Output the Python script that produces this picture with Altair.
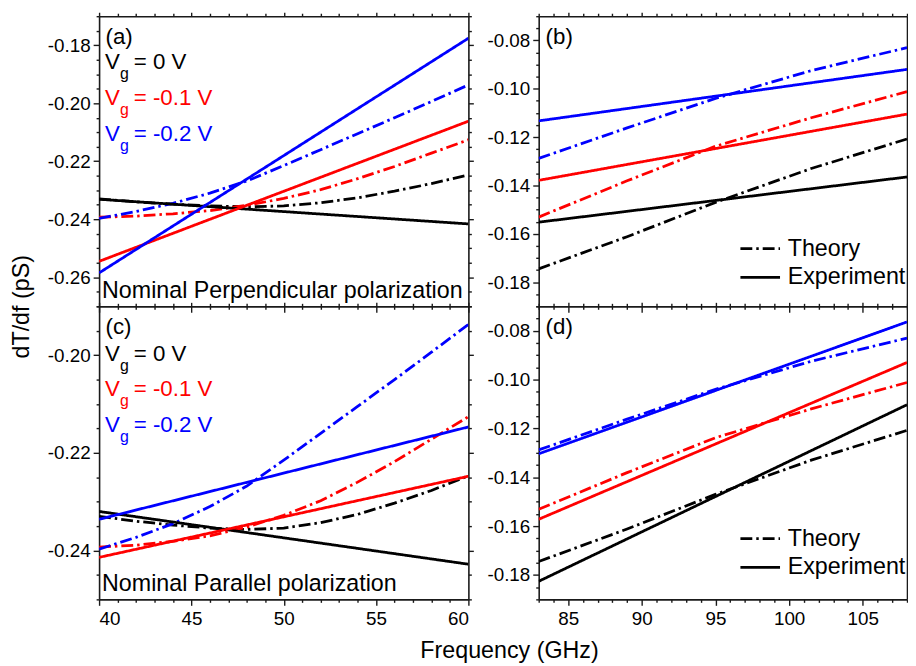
import altair as alt
import pandas as pd

FONT = "Liberation Sans"
AX = "#1a1a1a"

# ---------------- data ----------------
vg_levels = ["0 V", "-0.1 V", "-0.2 V"]
vg_colors = ["#000000", "#ff0000", "#0000ff"]
kinds = ["Theory", "Experiment"]

# theory curves (left panels, 40-60 GHz)
theory_left_freq = [40, 42, 44, 46, 48, 50, 52, 54, 56, 58, 60]
theory_left_0 = [-0.2330, -0.2340, -0.2348, -0.2354, -0.2357, -0.2354, -0.2343, -0.2326, -0.2303, -0.2277, -0.2247]
theory_left_m01 = [-0.2393, -0.2389, -0.2381, -0.2370, -0.2352, -0.2328, -0.2298, -0.2260, -0.2218, -0.2172, -0.2126]
theory_left_m02 = [-0.2397, -0.2373, -0.2345, -0.2310, -0.2268, -0.2215, -0.2160, -0.2105, -0.2050, -0.1994, -0.1937]

# theory curves (right panels, 83-108 GHz)
theory_right_freq = [83, 89, 95, 101.5, 108]
theory_right_0 = [-0.1745, -0.1612, -0.1470, -0.1330, -0.1208]
theory_right_m01 = [-0.1531, -0.1381, -0.1238, -0.1120, -0.1012]
theory_right_m02 = [-0.1288, -0.1162, -0.1040, -0.0925, -0.0830]

# experiment lines
exp_left_freq = [40, 60]
exp_a_0 = [-0.2331, -0.2416]
exp_a_m01 = [-0.2545, -0.2062]
exp_a_m02 = [-0.2585, -0.1776]
exp_c_0 = [-0.2320, -0.2428]
exp_c_m01 = [-0.2414, -0.2248]
exp_c_m02 = [-0.2336, -0.2147]

exp_right_freq = [83, 108]
exp_b_0 = [-0.1552, -0.1365]
exp_b_m01 = [-0.1379, -0.1105]
exp_b_m02 = [-0.1133, -0.0920]
exp_d_0 = [-0.1826, -0.1103]
exp_d_m01 = [-0.1572, -0.0930]
exp_d_m02 = [-0.1304, -0.0764]

panel_tags = ["(a)", "(b)", "(c)", "(d)"]
vg_rest = ["= 0 V", "= -0.1 V", "= -0.2 V"]
pol_labels = ["Nominal Perpendicular polarization", "Nominal Parallel polarization"]

# ---------------- helpers ----------------
DASHDOT = [12, 4, 2.5, 4]
YEXPR = "(datum.value < 0 ? '-' : '') + format(abs(datum.value), '.2f')"


def build(tf, tvals, ef, evals):
    frames = []
    for vg, vals in zip(vg_levels, tvals):
        frames.append(pd.DataFrame({"freq": tf, "val": vals, "vg": vg, "kind": "Theory"}))
    for vg, vals in zip(vg_levels, evals):
        frames.append(pd.DataFrame({"freq": ef, "val": vals, "vg": vg, "kind": "Experiment"}))
    df = pd.concat(frames, ignore_index=True)
    df["series"] = df["kind"] + " " + df["vg"]
    return df


def tick_list(lo, hi, step):
    n = int(round((hi - lo) / step))
    return [round(lo + i * step, 4) for i in range(n + 1)]


def axis(orient, values, size, **kw):
    d = dict(orient=orient, values=values, tickSize=size, labels=False, grid=False,
             domainColor=AX, domainWidth=1.6, tickColor=AX, tickWidth=1.4,
             labelFont=FONT, labelFontSize=19, labelColor="black", labelPadding=4,
             titleFont=FONT, titleFontSize=23.5, titleColor="black", titleFontWeight="normal",
             title=None)
    d.update(kw)
    return alt.Axis(**d)


def txt(s, x, y, size=22.5, color="black"):
    return alt.Chart(pd.DataFrame({"t": [s]})).mark_text(
        align="left", baseline="alphabetic", font=FONT, fontSize=size, color=color
    ).encode(text="t:N", x=alt.value(x), y=alt.value(y))


def panel(df, xdom, ydom, xstep, ymaj, w, h, xlabels, top_tick, right_ticks,
          legend, texts, xkw=None, ykw=None):
    xs = alt.Scale(domain=xdom, nice=False, zero=False)
    ys = alt.Scale(domain=ydom, nice=False, zero=False)
    xall = tick_list(xdom[0], xdom[1], 1)
    xmaj = [v for v in xall if v % xstep == 0]
    xmin = [v for v in xall if v % xstep != 0]
    yall = tick_list(ydom[0], ydom[1], 0.005)
    ymin = [v for v in yall if all(abs(v - m) > 1e-6 for m in ymaj)]
    base = alt.Chart(df)
    main = base.mark_line(strokeWidth=2.8, clip=True, strokeCap="butt").encode(
        x=alt.X("freq:Q", scale=xs,
                axis=axis("bottom", xmaj, 6, labels=xlabels, format="d", **(xkw or {}))),
        y=alt.Y("val:Q", scale=ys,
                axis=axis("left", ymaj, 6, labels=True, labelExpr=YEXPR, labelPadding=3, **(ykw or {}))),
        color=alt.Color("vg:N", scale=alt.Scale(domain=vg_levels, range=vg_colors), legend=None),
        strokeDash=alt.StrokeDash("kind:N", scale=alt.Scale(domain=kinds, range=[DASHDOT, [1, 0]]),
                                  legend=legend),
        detail="series:N",
    )
    minor = base.mark_point(opacity=0, size=1).encode(
        x=alt.X("freq:Q", scale=xs, axis=axis("bottom", xmin, 3, domain=False)),
        y=alt.Y("val:Q", scale=ys, axis=axis("left", ymin, 3, domain=False)),
    )
    mirror = base.mark_point(opacity=0, size=1).encode(
        x=alt.X("freq:Q", scale=xs, axis=axis("top", xmaj, top_tick)),
        y=alt.Y("val:Q", scale=ys, axis=axis("right", ymaj, 5, ticks=right_ticks)),
    )
    mirror_minor = base.mark_point(opacity=0, size=1).encode(
        x=alt.X("freq:Q", scale=xs, axis=axis("top", xmin, 3, domain=False)),
        y=alt.Y("val:Q", scale=ys, axis=axis("right", ymin, 3, domain=False, ticks=right_ticks)),
    )
    return alt.layer(main, minor, mirror, mirror_minor, *texts).resolve_axis(
        x="independent", y="independent"
    ).properties(width=w, height=h)


def vg_texts(rows):
    out = []
    for vg_rest_txt, col, yb in zip(vg_rest, vg_colors, rows):
        out.append(txt("V", 6, yb, 22.5, col))
        out.append(txt("g", 21, yb + 10, 16, col))
        out.append(txt(vg_rest_txt, 35, yb, 22.5, col))
    return out


df_a = build(theory_left_freq, [theory_left_0, theory_left_m01, theory_left_m02],
             exp_left_freq, [exp_a_0, exp_a_m01, exp_a_m02])
df_c = build(theory_left_freq, [theory_left_0, theory_left_m01, theory_left_m02],
             exp_left_freq, [exp_c_0, exp_c_m01, exp_c_m02])
df_b = build(theory_right_freq, [theory_right_0, theory_right_m01, theory_right_m02],
             exp_right_freq, [exp_b_0, exp_b_m01, exp_b_m02])
df_d = build(theory_right_freq, [theory_right_0, theory_right_m01, theory_right_m02],
             exp_right_freq, [exp_d_0, exp_d_m01, exp_d_m02])

WL, WR = 373, 372
HT, HB = 293, 296


def legend_box():
    # custom horizontal stroke: 40 px long with a 20 px layout footprint
    return alt.Legend(orient="none", legendX=212, legendY=223, title=None,
                      symbolType="M-2,0L2,0", symbolSize=400, symbolStrokeWidth=2.8,
                      symbolStrokeColor="black", symbolFillColor="transparent",
                      labelFont=FONT, labelFontSize=23.5,
                      labelColor="black", labelOffset=16, rowPadding=4, padding=0)


pa = panel(df_a, [40, 60], [-0.27, -0.17], 5, [-0.26, -0.24, -0.22, -0.20, -0.18],
           WL, HT, False, 4, True, None,
           [txt(panel_tags[0], 6.5, 28)] + vg_texts([53, 90, 126]) + [txt(pol_labels[0], 3, 285, 23.5)],
           ykw=dict(title="dT/df (pS)", titleX=-66, titleY=HT, titleBaseline="bottom"))
pb = panel(df_b, [83, 108], [-0.19, -0.07], 5, [-0.18, -0.16, -0.14, -0.12, -0.10, -0.08],
           WR, HT, False, 4, False, legend_box(),
           [txt(panel_tags[1], 7, 28)])
pc = panel(df_c, [40, 60], [-0.25, -0.19], 5, [-0.24, -0.22, -0.20],
           WL, HB, True, 4, True, None,
           [txt(panel_tags[2], 6.5, 28)] + vg_texts([55, 91, 127]) + [txt(pol_labels[1], 3, 288, 23.5)],
           xkw=dict(title="Frequency (GHz)", titleX=414, titleY=40, titleBaseline="top"))
pd_ = panel(df_d, [83, 108], [-0.19, -0.07], 5, [-0.18, -0.16, -0.14, -0.12, -0.10, -0.08],
            WR, HB, True, 4, False, legend_box(),
            [txt(panel_tags[3], 7, 28)])

chart = alt.concat(
    pa, pb, pc, pd_, columns=2, spacing={"row": 0, "column": 71}, bounds="flush", align="each"
).resolve_scale(
    color="independent", strokeDash="independent"
).resolve_legend(
    strokeDash="independent"
).properties(
    padding={"left": 2, "top": 0, "right": 0, "bottom": 0}, background="white"
).configure_view(strokeWidth=0)

chart.save("out.html", embed_options={"renderer": "svg", "actions": False})
